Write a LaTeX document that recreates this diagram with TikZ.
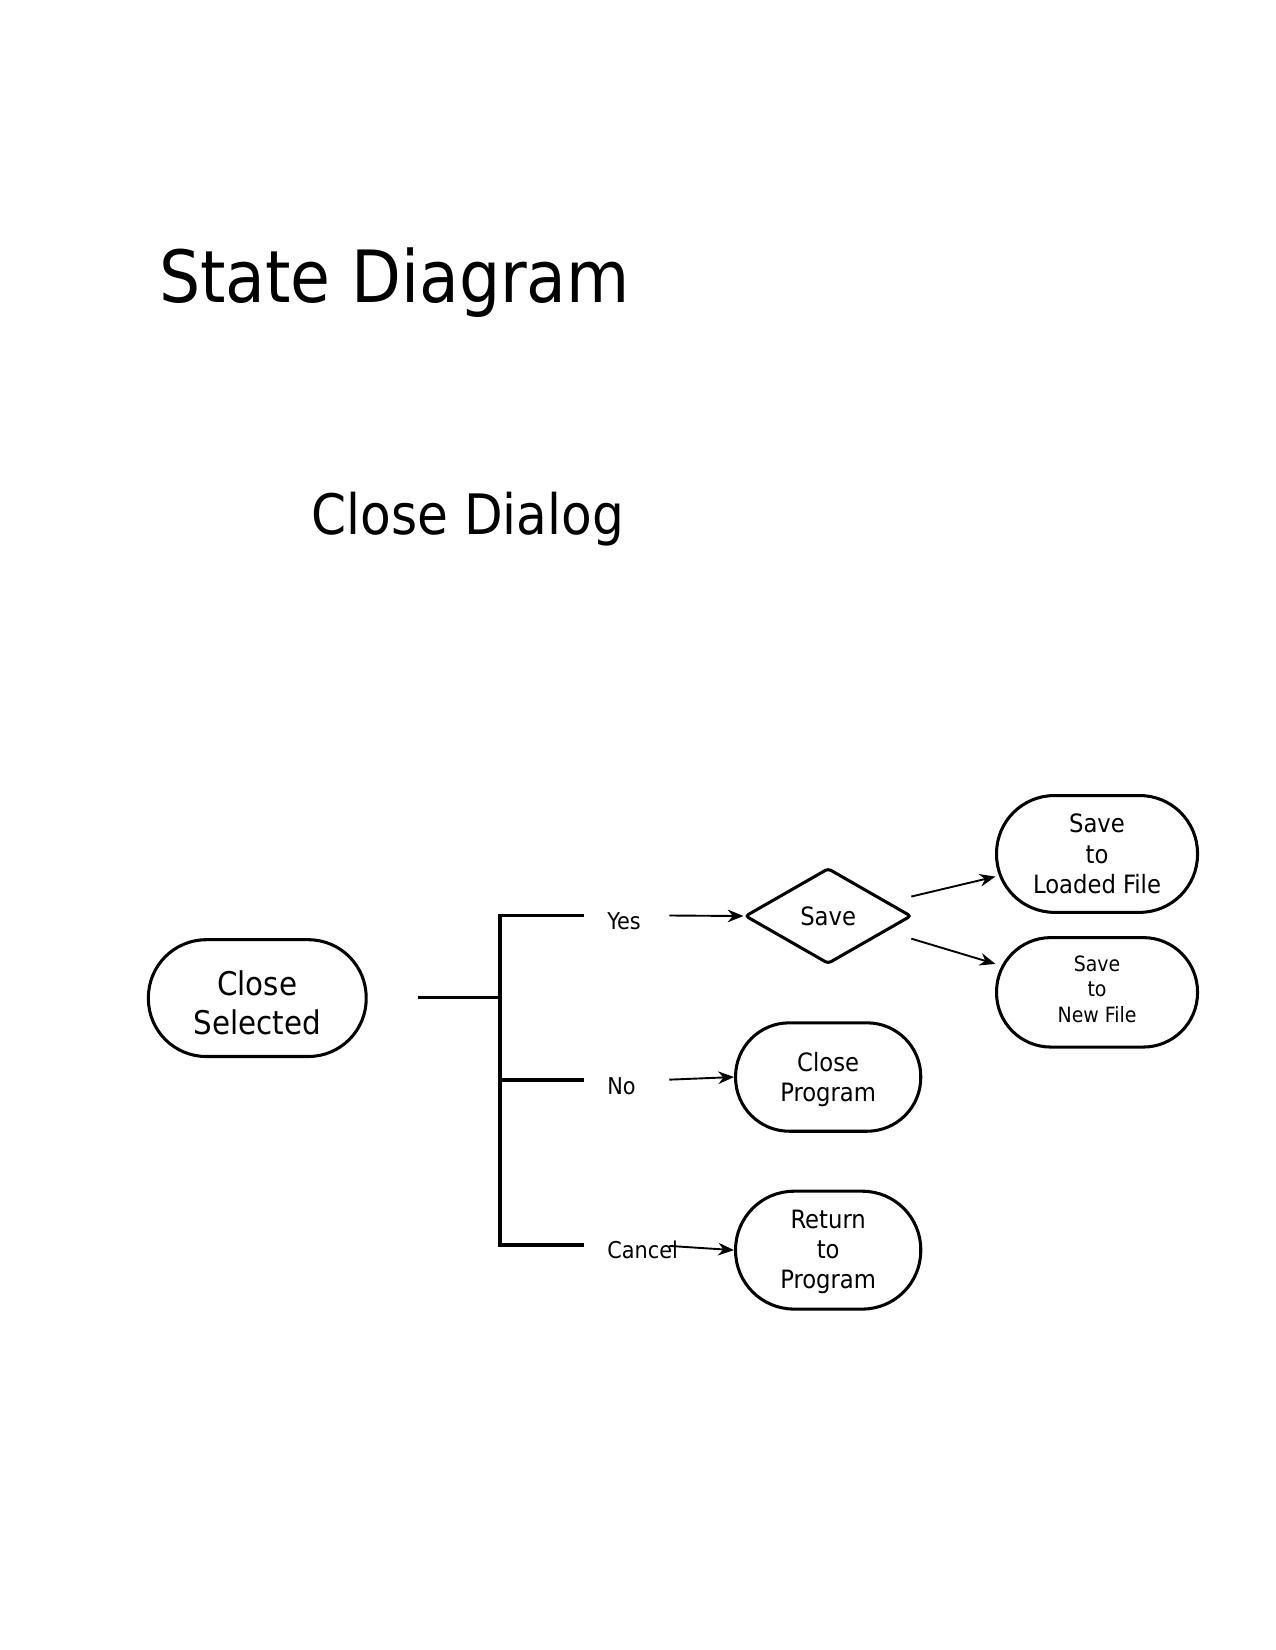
\documentclass[tikz,border=0pt]{standalone}
\usepackage{fontspec}
\setmainfont{DejaVu Sans Condensed}
\usetikzlibrary{shapes.geometric,arrows.meta}
\newcommand{\fs}[1]{\fontsize{#1pt}{\dimexpr #1pt*12/10\relax}\selectfont}
\begin{document}
\begin{tikzpicture}[x=1pt,y=-1pt,
  stadium/.style n args={3}{draw, line width=2.9pt, minimum width=#1, minimum height=#2,
     rounded corners=#2/2-0.5pt, inner sep=0pt, align=center, font=\fs{#3}},
  decision/.style={draw, diamond, line width=2.9pt, minimum width=158pt, minimum height=91pt,
     aspect=1.736, inner sep=0pt, rounded corners=3pt, font=\fs{24}},
  bracket/.style={line width=3.5pt},
  arr/.style={line width=1.8pt, -{Stealth[length=15pt,width=12pt]}},
  lbl/.style={anchor=base west, inner sep=0pt, font=\fs{22}},
  title/.style={anchor=base west, inner sep=0pt}]
\useasboundingbox (0,0) rectangle (1212,1568);
\fill[white] (0,0) rectangle (1212,1568);

\node[title, font=\fs{68.5}] (t1) at (151,287) {State Diagram};
\node[title, font=\fs{53}] (t2) at (296,508) {Close Dialog};

\node[stadium={207pt}{111pt}{31}, text height=70pt, text depth=0pt] (cs) at (244.5,948.5) {Close\\Selected};
\node[decision] (save) at (787,870.5) {Save};
\node[stadium={176pt}{103pt}{24}, text depth=0pt] (cp) at (787,1023.5) {Close\\Program};
\node[stadium={176pt}{112pt}{24}, text depth=1.7pt] (rp) at (787,1188) {Return\\to\\Program};
\node[stadium={191pt}{111pt}{24}] (sl) at (1042.5,811.5) {Save\\to\\Loaded File};
\node[stadium={191pt}{104pt}{20}, text depth=6pt] (sn) at (1042.5,943) {Save\\to\\New File};

\node[lbl] (yes) at (577,883) {Yes};
\node[lbl] (no) at (577,1040) {No};
\node[lbl] (cancel) at (577,1196) {Cancel};

\coordinate (b0) at (397,948);
\coordinate (bj) at (475,948);
\coordinate (bt) at (475,870);
\coordinate (bm) at (475,1026);
\coordinate (bb) at (475,1183);
\coordinate (ey) at (555,870);
\coordinate (en) at (555,1026);
\coordinate (ec) at (555,1183);
\draw[bracket] (ey) -- (bt) -- (bb) -- (ec);
\draw[bracket] (b0) -- (bj);
\draw[bracket] (bm) -- (en);

\coordinate (ay) at (636,870);
\coordinate (an) at (636,1026);
\coordinate (ac) at (636,1184);
\draw[arr] (ay) -- (save.west);
\draw[arr] (an) -- (cp.west);
\draw[arr] (ac) -- (rp.west);

\coordinate (d1) at (866,852);
\coordinate (l1) at (946,833);
\coordinate (d2) at (866,892);
\coordinate (n1) at (946,916);
\draw[arr] (d1) -- (l1);
\draw[arr] (d2) -- (n1);
\end{tikzpicture}
\end{document}
